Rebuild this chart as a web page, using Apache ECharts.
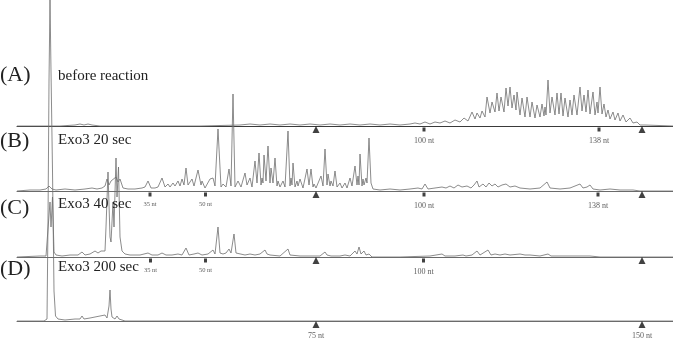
<!DOCTYPE html>
<html><head><meta charset="utf-8">
<script src="https://cdn.jsdelivr.net/npm/echarts@6/dist/echarts.min.js"></script>
<style>html,body{margin:0;padding:0;background:#fff}#c{width:673px;height:338px}</style>
</head><body><div id="c"></div>
<script>
// Panel titles
const panelLetters = ['(A)', '(B)', '(C)', '(D)'];
const panelNames = ['before reaction', 'Exo3 20 sec', 'Exo3 40 sec', 'Exo3 200 sec'];

// Traces: [scan position, signal height]
const traceA = [[17,0],[60,0],[75,1],[80,2],[84,1],[88,2],[92,1],[100,0],[200,0],[240,1],[250,2],[260,1],[270,2],[280,1],[290,2],[300,1],[310,2],[320,1],[330,2],[340,1],[350,2],[360,1],[370,2],[380,1],[390,2],[400,1],[410,2],[415,3],[420,2],[425,4],[430,2],[435,4],[440,3],[445,5],[450,3],[455,6],[460,4],[464,8],[468,5],[472,14],[475,7],[477,13],[480,8],[482,15],[485,9],[487,29],[490,13],[492,24],[495,14],[497,33],[499,15],[501,29],[504,14],[506,38],[508,20],[510,39],[512,18],[514,31],[516,16],[517,34],[520,11],[522,28],[525,9],[527,29],[530,9],[532,24],[535,8],[537,21],[540,9],[542,22],[544,10],[545,19],[546,11],[548,46],[550,13],[552,29],[555,11],[557,33],[559,12],[561,33],[563,10],[565,28],[568,9],[570,26],[572,11],[574,31],[577,11],[580,39],[582,15],[584,31],[586,14],[588,36],[590,12],[593,34],[595,11],[597,24],[598,13],[600,39],[602,12],[604,22],[606,9],[608,16],[610,7],[613,14],[615,6],[618,13],[620,5],[623,11],[626,4],[630,8],[633,3],[637,4],[640,1],[645,1],[673,0]];
const traceB = [[17,0],[30,1],[40,1],[46,2],[49,5],[52,2],[56,1],[65,2],[75,1],[85,2],[92,3],[97,2],[102,3],[105,5],[107,12],[109,6],[111,10],[113,8],[116,14],[118,9],[120,12],[123,3],[128,2],[135,2],[142,3],[145,4],[148,10],[151,3],[155,3],[158,4],[162,13],[165,4],[168,7],[170,4],[173,8],[175,5],[178,10],[180,5],[182,12],[184,6],[186,23],[188,6],[190,8],[192,12],[194,5],[198,21],[201,6],[202,10],[205,3],[207,4],[210,12],[213,13],[215,5],[218,62],[221,4],[223,7],[226,4],[229,22],[231,5],[233,97],[235,4],[238,10],[241,4],[245,18],[247,6],[250,13],[252,4],[255,30],[257,8],[259,38],[261,6],[262,13],[263,8],[264,36],[266,10],[268,45],[270,8],[271,23],[273,8],[275,33],[277,5],[278,10],[280,4],[283,10],[285,4],[288,60],[290,5],[291,13],[292,6],[293,28],[295,4],[297,10],[298,5],[300,12],[303,3],[307,22],[309,6],[311,22],[313,4],[314,7],[316,3],[318,3],[321,15],[323,5],[325,42],[327,6],[328,17],[330,5],[331,10],[333,5],[335,20],[337,4],[340,8],[342,3],[345,8],[347,3],[350,13],[352,5],[355,25],[357,6],[358,15],[359,6],[360,37],[362,5],[363,12],[364,6],[366,13],[367,8],[369,53],[371,8],[373,2],[380,1],[390,2],[400,1],[410,2],[418,3],[422,2],[425,7],[428,2],[435,3],[442,4],[446,3],[450,5],[454,3],[458,6],[462,4],[467,5],[471,3],[474,6],[477,10],[479,4],[483,7],[486,4],[489,8],[492,5],[495,7],[498,4],[502,6],[506,7],[510,4],[515,5],[520,3],[530,2],[540,3],[547,9],[550,3],[560,2],[570,3],[580,7],[583,3],[587,4],[590,6],[593,2],[600,1],[610,2],[620,1],[633,1],[640,0],[673,0]];
const traceC = [[17,0],[40,1],[46,1],[48,3],[50,55],[51,30],[52.5,60],[54,5],[56,2],[62,1],[70,2],[78,2],[82,5],[85,2],[90,3],[95,6],[98,4],[101,6],[103,8],[105,6],[106,30],[108,85],[110,20],[111,15],[113,55],[114,30],[116,99],[117,60],[118.5,90],[120,20],[122,6],[125,3],[130,2],[140,2],[148,4],[152,2],[158,2],[162,4],[166,2],[172,2],[178,3],[182,2],[186,9],[189,2],[194,3],[198,4],[202,2],[208,3],[210,2],[213,7],[215,3],[218,30],[220,4],[223,3],[226,4],[229,8],[231,4],[234,23],[236,4],[238,3],[245,2],[250,3],[255,2],[260,3],[265,7],[267,3],[268,5],[270,2],[280,1],[288,8],[290,2],[300,1],[310,1],[320,1],[325,5],[327,2],[329,4],[331,1],[340,1],[345,2],[350,1],[355,6],[357,3],[359,10],[361,3],[364,6],[366,2],[369,3],[372,0],[400,0],[430,1],[442,3],[445,1],[455,1],[463,2],[466,1],[472,2],[477,6],[480,2],[488,7],[491,2],[495,3],[500,2],[505,3],[510,2],[520,3],[525,2],[530,2],[540,1],[548,3],[551,1],[570,1],[590,1],[600,0],[673,0]];
const traceD = [[17,0],[44,0],[47,2],[48,100],[49,240],[50,321],[51,250],[52.5,150],[54,30],[55.5,5],[58,2],[65,1],[75,2],[80,2],[82,5],[84,2],[90,3],[95,4],[97,2],[100,5],[102,3],[105,6],[107,3],[109,15],[110,31],[111,12],[112,4],[114,3],[115,2],[117,5],[119,2],[121,2],[125,0],[673,0]];

// Size markers: [position, symbol, label]
const markA = [[316,'triangle',''],[424,'rect','100 nt'],[599,'rect','138 nt'],[642,'triangle','']];
const markB = [[150,'rect','35 nt'],[205.5,'rect','50 nt'],[316,'triangle',''],[424,'rect','100 nt'],[598,'rect','138 nt'],[642,'triangle','']];
const markC = [[150.5,'rect','35 nt'],[205.5,'rect','50 nt'],[316,'triangle',''],[423.5,'rect','100 nt'],[642,'triangle','']];
const markD = [[316,'triangle','75 nt'],[642,'triangle','150 nt']];

const traces = [traceA, traceB, traceC, traceD];
const marks = [markA, markB, markC, markD];
const baselines = [126, 191, 257, 321];
const smallLabels = ['35 nt', '50 nt'];
const SERIF = "'Liberation Serif', 'DejaVu Serif', serif";

const chart = echarts.init(document.getElementById('c'), null, {renderer: 'canvas'});
const grids = [], xAxes = [], yAxes = [], series = [];
baselines.forEach((b, i) => {
  grids.push({left: 17, right: 0, top: b - 50, height: 64});
  xAxes.push({type: 'value', gridIndex: i, min: 17, max: 673,
    axisLine: {show: true, onZero: true, lineStyle: {color: i === 0 ? '#3a3a3a' : '#6a6a6a', width: 1}},
    axisTick: {show: false}, axisLabel: {show: false}, splitLine: {show: false}});
  yAxes.push({type: 'value', gridIndex: i, min: -14, max: 50, show: false, splitLine: {show: false}});
  series.push({type: 'line', xAxisIndex: i, yAxisIndex: i, data: traces[i], clip: false,
    symbol: 'none', smooth: false, lineStyle: {color: '#6e6e6e', width: 0.8}, z: 3, silent: true});
  series.push({type: 'scatter', xAxisIndex: i, yAxisIndex: i, clip: false, z: 4, silent: true,
    data: marks[i].map(m => ({value: [m[0], m[1] === 'triangle' ? -3.5 : -3.5], name: m[2],
      symbol: m[1], symbolSize: m[1] === 'triangle' ? [7, 7] : [3, 4],
      label: {show: !!m[2], position: 'bottom', distance: m[1] === 'triangle' ? 4 : (smallLabels.includes(m[2]) ? 4 : 5),
        formatter: '{b}', fontFamily: SERIF, color: '#333',
        fontSize: smallLabels.includes(m[2]) ? 6.5 : 8}})),
    itemStyle: {color: '#111'}});
});

const letterY = [76, 142, 209, 270];
const nameY = [77, 141, 205, 268];
const graphic = [];
panelLetters.forEach((t, i) => {
  graphic.push({type: 'text', left: 0, top: letterY[i] - 12, z: 10,
    style: {text: t, font: "22px " + SERIF, fill: '#222'}});
  graphic.push({type: 'text', left: 58, top: nameY[i] - 8, z: 10,
    style: {text: panelNames[i], font: "15px " + SERIF, fill: '#222'}});
});

chart.setOption({animation: false, backgroundColor: '#fff', grid: grids, xAxis: xAxes, yAxis: yAxes, series, graphic});
</script></body></html>
